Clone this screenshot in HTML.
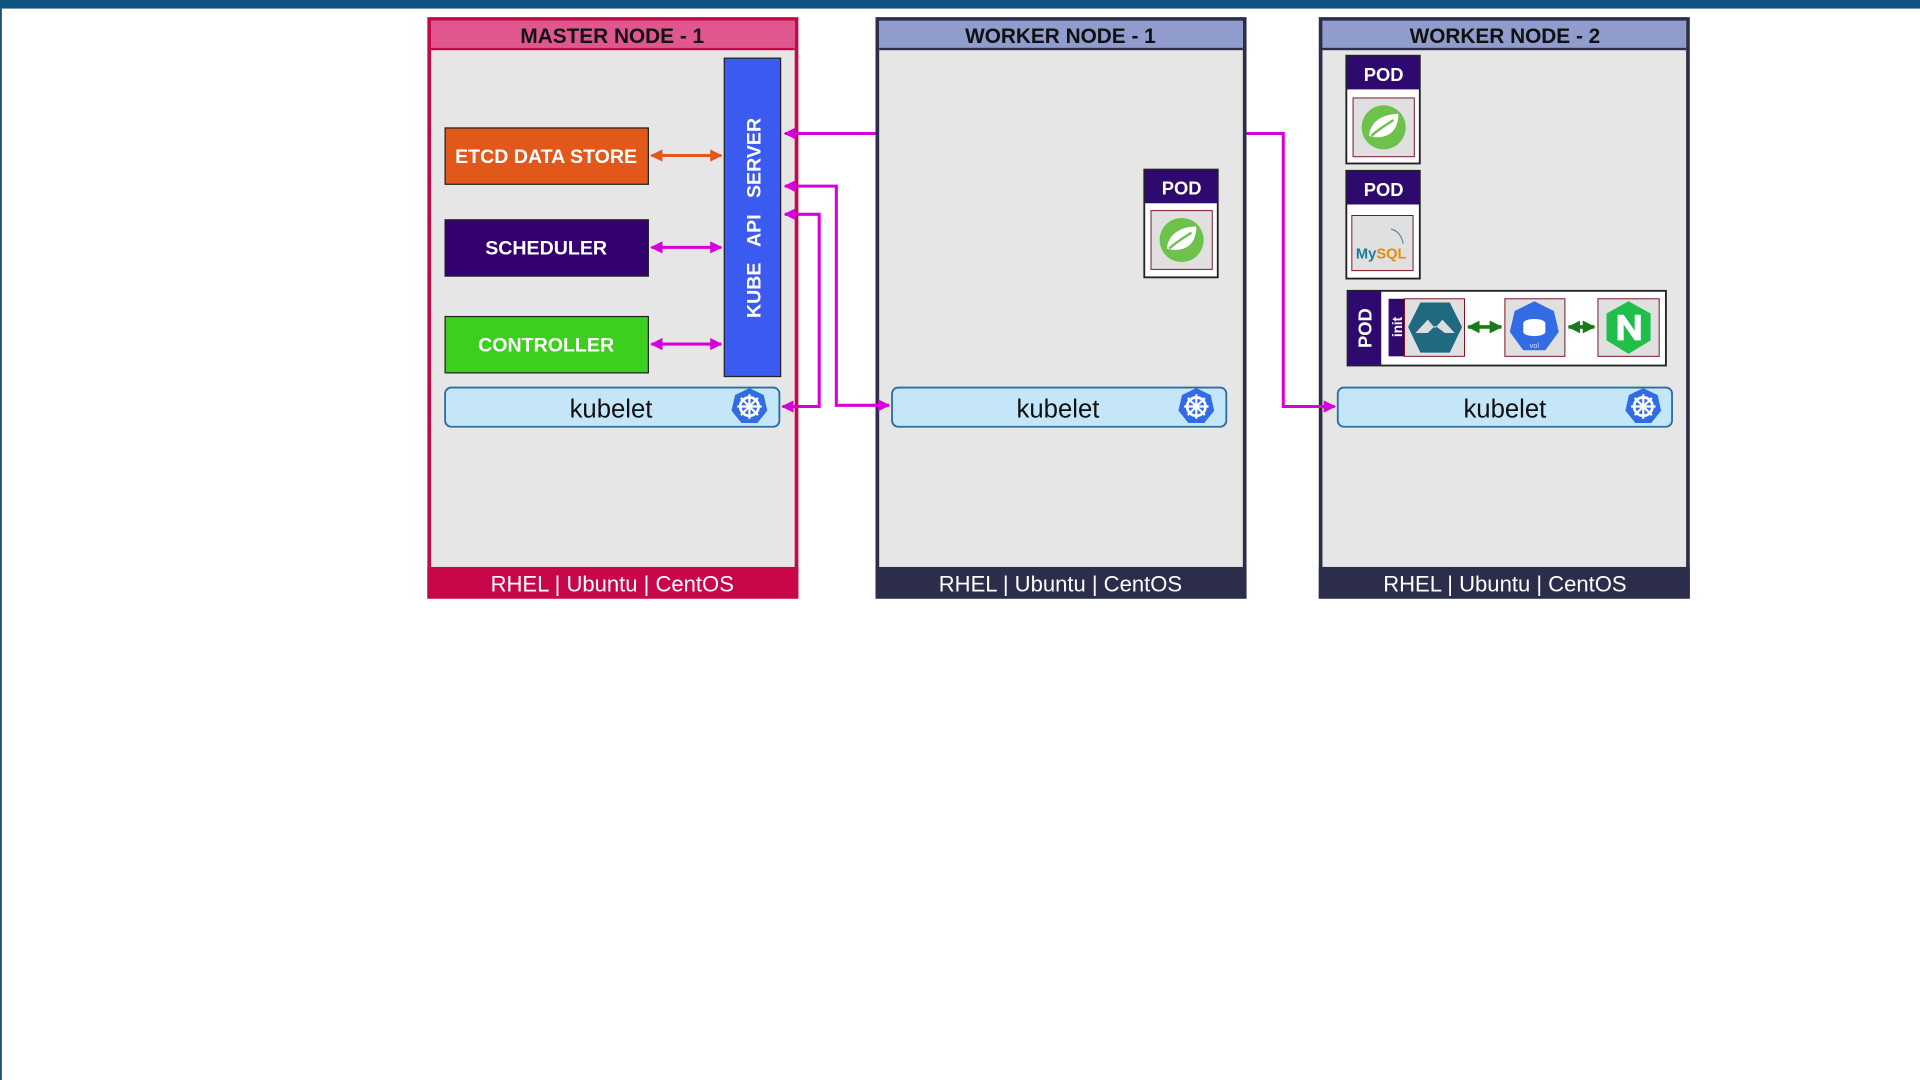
<!DOCTYPE html>
<html><head><meta charset="utf-8"><style>
html,body{margin:0;padding:0;background:#fff;width:1920px;height:1080px;overflow:hidden}
svg{display:block}
text{font-family:"Liberation Sans Narrow","Liberation Sans",sans-serif;font-weight:bold}
</style></head><body>
<svg width="1920" height="1080" viewBox="0 0 1568 882" preserveAspectRatio="none" xmlns="http://www.w3.org/2000/svg">
<defs>
<marker id="mg" viewBox="0 0 10 10" refX="9" refY="5" markerWidth="4" markerHeight="4" orient="auto-start-reverse"><path d="M0,0L10,5L0,10z" fill="#d800d8"/></marker>
<marker id="or" viewBox="0 0 10 10" refX="9" refY="5" markerWidth="4" markerHeight="4" orient="auto-start-reverse"><path d="M0,0L10,5L0,10z" fill="#e2571a"/></marker>
<marker id="gr" viewBox="0 0 10 10" refX="9" refY="5" markerWidth="3.5" markerHeight="3.5" orient="auto-start-reverse"><path d="M0,0L10,5L0,10z" fill="#1a7a1a"/></marker>
<g id="k8s">
<polygon points="0,-15 11.7,-9.4 14.6,3.3 6.5,13.5 -6.5,13.5 -14.6,3.3 -11.7,-9.4" fill="#326ce5"/>
<circle r="7.5" fill="none" stroke="#fff" stroke-width="2.2"/>
<circle r="2.5" fill="#fff"/>
<g stroke="#fff" stroke-width="1.8"><line x1="0" y1="-10" x2="0" y2="10"/><line x1="-10" y1="0" x2="10" y2="0"/><line x1="-7" y1="-7" x2="7" y2="7"/><line x1="-7" y1="7" x2="7" y2="-7"/></g>
</g>
<g id="spring">
<rect x="0" y="0" width="50" height="48" fill="#e0e0e0" stroke="#7a1020" stroke-width="0.8"/>
<circle cx="25" cy="24" r="18" fill="#6cc24a"/>
<path d="M13,31 C14,18 26,13 37,13 C37,26 30,33 17,32 Z" fill="#fff"/>
<path d="M15,31 C20,26 27,22 33,18" stroke="#6cc24a" stroke-width="2" fill="none"/>
</g>
</defs>
<rect x="0" y="0" width="1568" height="7" fill="#0f5580"/>
<rect x="0" y="7" width="1.5" height="875" fill="#1f4f70"/>

<!-- MASTER -->
<rect x="350.5" y="15.5" width="300" height="472" fill="#e6e6e6" stroke="#c8074a" stroke-width="3"/>
<rect x="352" y="17" width="297" height="22" fill="#e0578f"/>
<rect x="352" y="39" width="297" height="2" fill="#c8074a"/>
<text x="500" y="35" font-size="17" text-anchor="middle" fill="#111">MASTER NODE - 1</text>
<rect x="349" y="463" width="303" height="25" fill="#c8074a"/>
<text x="500" y="483" font-size="18" text-anchor="middle" fill="#fff" font-weight="normal" style="font-weight:normal">RHEL | Ubuntu | CentOS</text>

<rect x="363.5" y="104.5" width="166" height="46" fill="#e2571a" stroke="#222"/>
<text x="446" y="133" font-size="16" text-anchor="middle" fill="#fff">ETCD DATA STORE</text>
<rect x="363.5" y="179.5" width="166" height="46" fill="#33006e" stroke="#222"/>
<text x="446" y="208" font-size="16" text-anchor="middle" fill="#fff">SCHEDULER</text>
<rect x="363.5" y="258.5" width="166" height="46" fill="#3ccf1f" stroke="#222"/>
<text x="446" y="287" font-size="16" text-anchor="middle" fill="#fff">CONTROLLER</text>
<rect x="591.5" y="47.5" width="46" height="260" fill="#3a5af0" stroke="#222"/>
<text transform="translate(621,178) rotate(-90)" font-size="16" text-anchor="middle" fill="#fff" style="font-family:'Liberation Sans',sans-serif" xml:space="preserve">KUBE   API   SERVER</text>

<line x1="532" y1="127" x2="589" y2="127" stroke="#e2571a" stroke-width="2.5" marker-start="url(#or)" marker-end="url(#or)"/>
<line x1="532" y1="202" x2="589" y2="202" stroke="#d800d8" stroke-width="2.5" marker-start="url(#mg)" marker-end="url(#mg)"/>
<line x1="532" y1="281" x2="589" y2="281" stroke="#d800d8" stroke-width="2.5" marker-start="url(#mg)" marker-end="url(#mg)"/>

<rect x="363.5" y="316.5" width="273" height="32" rx="5" fill="#c5e6f8" stroke="#2a6fa0" stroke-width="1.5"/>
<text x="499" y="341" font-size="21" text-anchor="middle" fill="#111" style="font-family:'Liberation Sans',sans-serif;font-weight:normal">kubelet</text>
<use href="#k8s" x="612" y="332"/>

<!-- WORKER 1 -->
<rect x="716.5" y="15.5" width="300" height="472" fill="#e6e6e6" stroke="#2b2d4a" stroke-width="3"/>
<rect x="718" y="17" width="297" height="22" fill="#8f9ccc"/>
<rect x="718" y="39" width="297" height="2" fill="#2b2d4a"/>
<text x="866" y="35" font-size="17" text-anchor="middle" fill="#111">WORKER NODE - 1</text>
<rect x="715" y="463" width="303" height="25" fill="#2b2d4a"/>
<text x="866" y="483" font-size="18" text-anchor="middle" fill="#fff" style="font-weight:normal">RHEL | Ubuntu | CentOS</text>
<rect x="934.5" y="138.5" width="60" height="88" fill="#fff" stroke="#222" stroke-width="1.5"/>
<rect x="935" y="139" width="59" height="27" fill="#2e0a6e"/>
<text x="965" y="159" font-size="15" text-anchor="middle" fill="#fff" style="font-family:'Liberation Sans',sans-serif">POD</text>
<use href="#spring" x="940" y="172"/>
<rect x="728.5" y="316.5" width="273" height="32" rx="5" fill="#c5e6f8" stroke="#2a6fa0" stroke-width="1.5"/>
<text x="864" y="341" font-size="21" text-anchor="middle" fill="#111" style="font-family:'Liberation Sans',sans-serif;font-weight:normal">kubelet</text>
<use href="#k8s" x="977" y="332"/>

<!-- WORKER 2 -->
<rect x="1078.5" y="15.5" width="300" height="472" fill="#e6e6e6" stroke="#2b2d4a" stroke-width="3"/>
<rect x="1080" y="17" width="297" height="22" fill="#8f9ccc"/>
<rect x="1080" y="39" width="297" height="2" fill="#2b2d4a"/>
<text x="1229" y="35" font-size="17" text-anchor="middle" fill="#111">WORKER NODE - 2</text>
<rect x="1077" y="463" width="303" height="25" fill="#2b2d4a"/>
<text x="1229" y="483" font-size="18" text-anchor="middle" fill="#fff" style="font-weight:normal">RHEL | Ubuntu | CentOS</text>

<rect x="1099.5" y="45.5" width="60" height="88" fill="#fff" stroke="#222" stroke-width="1.5"/>
<rect x="1100" y="46" width="59" height="27" fill="#2e0a6e"/>
<text x="1130" y="66" font-size="15" text-anchor="middle" fill="#fff" style="font-family:'Liberation Sans',sans-serif">POD</text>
<use href="#spring" x="1105" y="80"/>
<rect x="1099.5" y="139.5" width="60" height="88" fill="#fff" stroke="#222" stroke-width="1.5"/>
<rect x="1100" y="140" width="59" height="27" fill="#2e0a6e"/>
<text x="1130" y="160" font-size="15" text-anchor="middle" fill="#fff" style="font-family:'Liberation Sans',sans-serif">POD</text>
<rect x="1104" y="176" width="50" height="45" fill="#e0e0e0" stroke="#7a1020" stroke-width="0.8"/>
<text x="1128" y="211" font-size="12" text-anchor="middle" style="font-family:'Liberation Sans',sans-serif"><tspan fill="#1d7a9a">My</tspan><tspan fill="#e48e00">SQL</tspan></text>
<path d="M1136,187 q8,2 10,12" stroke="#5a8aa0" fill="none" stroke-width="1"/>

<rect x="1100.5" y="237.5" width="260" height="61" fill="#fff" stroke="#222" stroke-width="1.5"/>
<rect x="1101" y="238" width="27" height="60" fill="#2e0a6e"/>
<text transform="translate(1120,268) rotate(-90)" font-size="15" text-anchor="middle" fill="#fff" style="font-family:'Liberation Sans',sans-serif">POD</text>
<rect x="1134" y="244" width="14" height="47" fill="#2e0a6e"/>
<text transform="translate(1145,267) rotate(-90)" font-size="11" text-anchor="middle" fill="#fff" style="font-family:'Liberation Sans',sans-serif">init</text>
<rect x="1147" y="244" width="49" height="47" fill="#e0e0e0" stroke="#7a1020" stroke-width="0.8"/>
<polygon points="1160,247 1184,247 1194,267 1184,288 1160,288 1150,267" fill="#1f6a80"/>
<path d="M1156,272 L1166,261 L1172,268 L1178,261 L1188,272 L1180,272 L1172,266 L1166,272 Z" fill="#ddd"/>
<rect x="1229" y="244" width="49" height="47" fill="#e0e0e0" stroke="#7a1020" stroke-width="0.8"/>
<polygon points="1253,246 1269,254 1273,271 1262,286 1244,286 1233,271 1237,254" fill="#326ce5"/>
<ellipse cx="1253" cy="264" rx="9" ry="3.5" fill="#fff"/>
<rect x="1244" y="264" width="18" height="7" fill="#fff"/>
<ellipse cx="1253" cy="271" rx="9" ry="3.5" fill="#fff"/>
<text x="1253" y="284" font-size="6" text-anchor="middle" fill="#ddd" style="font-weight:normal">vol</text>
<rect x="1305" y="244" width="50" height="47" fill="#e0e0e0" stroke="#7a1020" stroke-width="0.8"/>
<polygon points="1330,246 1348,256 1348,278 1330,289 1312,278 1312,256" fill="#1fbf4a"/>
<path d="M1321,278 V257 H1326 L1335,270 V257 H1340 V278 H1335 L1326,265 V278 Z" fill="#fff"/>
<line x1="1199" y1="267" x2="1226" y2="267" stroke="#1a7a1a" stroke-width="3" marker-start="url(#gr)" marker-end="url(#gr)"/>
<line x1="1281" y1="267" x2="1302" y2="267" stroke="#1a7a1a" stroke-width="3" marker-start="url(#gr)" marker-end="url(#gr)"/>

<rect x="1092.5" y="316.5" width="273" height="32" rx="5" fill="#c5e6f8" stroke="#2a6fa0" stroke-width="1.5"/>
<text x="1229" y="341" font-size="21" text-anchor="middle" fill="#111" style="font-family:'Liberation Sans',sans-serif;font-weight:normal">kubelet</text>
<use href="#k8s" x="1342" y="332"/>

<!-- connectors -->
<g stroke="#d800d8" stroke-width="2.5" fill="none">
<polyline points="715,109 641,109" marker-end="url(#mg)"/>
<polyline points="641,152 683,152 683,331 726,331" marker-start="url(#mg)" marker-end="url(#mg)"/>
<polyline points="641,175 669,175 669,332 639,332" marker-start="url(#mg)" marker-end="url(#mg)"/>
<polyline points="1018,109 1048,109 1048,332 1090,332" marker-end="url(#mg)"/>
</g>
</svg>
</body></html>
